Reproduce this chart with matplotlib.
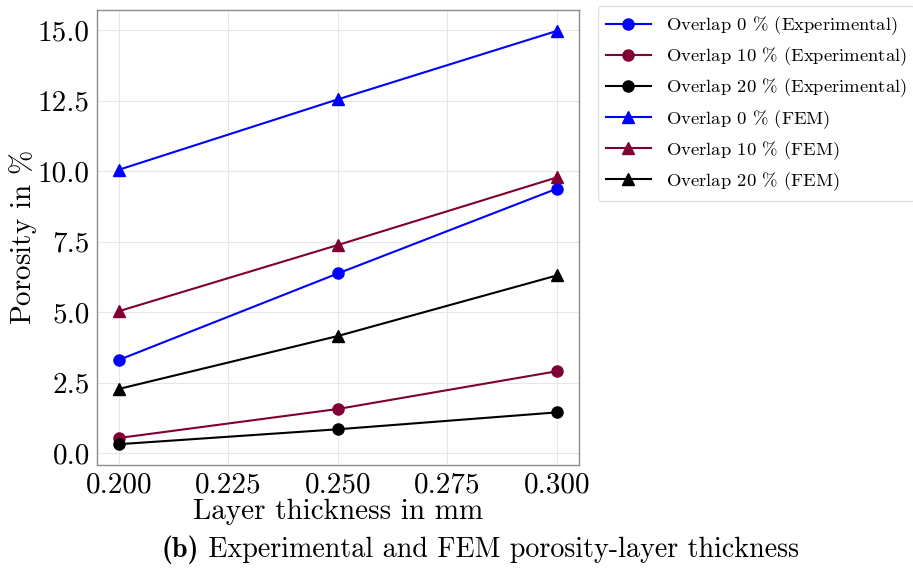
import matplotlib
matplotlib.use("Agg")
import matplotlib.pyplot as plt

plt.rcParams["font.family"] = "serif"
plt.rcParams["font.serif"] = ["cmr10", "DejaVu Serif"]
plt.rcParams["mathtext.fontset"] = "cm"
plt.rcParams["axes.formatter.use_mathtext"] = True

thickness = [0.200, 0.250, 0.300]

exp_0 = [3.30, 6.37, 9.38]
exp_10 = [0.53, 1.56, 2.90]
exp_20 = [0.31, 0.84, 1.44]
fem_0 = [10.05, 12.55, 14.98]
fem_10 = [5.03, 7.38, 9.78]
fem_20 = [2.27, 4.15, 6.30]

blue = "#0000ff"
maroon = "#800033"
black = "#000000"

fig = plt.figure(figsize=(9.13, 5.69), dpi=100)
ax = fig.add_axes([0.106, 0.183, 0.528, 0.799])

ax.plot(thickness, exp_0, color=blue, marker="o", ms=8, lw=1.5, label=r"Overlap 0 $\%$ (Experimental)")
ax.plot(thickness, exp_10, color=maroon, marker="o", ms=8, lw=1.5, label=r"Overlap 10 $\%$ (Experimental)")
ax.plot(thickness, exp_20, color=black, marker="o", ms=8, lw=1.5, label=r"Overlap 20 $\%$ (Experimental)")
ax.plot(thickness, fem_0, color=blue, marker="^", ms=8, lw=1.5, label=r"Overlap 0 $\%$ (FEM)")
ax.plot(thickness, fem_10, color=maroon, marker="^", ms=8, lw=1.5, label=r"Overlap 10 $\%$ (FEM)")
ax.plot(thickness, fem_20, color=black, marker="^", ms=8, lw=1.5, label=r"Overlap 20 $\%$ (FEM)")

ax.set_xticks([0.200, 0.225, 0.250, 0.275, 0.300])
ax.set_xticklabels(["0.200", "0.225", "0.250", "0.275", "0.300"])
ax.set_yticks([0.0, 2.5, 5.0, 7.5, 10.0, 12.5, 15.0])
ax.set_yticklabels(["0.0", "2.5", "5.0", "7.5", "10.0", "12.5", "15.0"])
ax.tick_params(labelsize=21, length=0, pad=5)
ax.grid(True, color="#e6e6e6", lw=0.8)
ax.set_axisbelow(True)
for s in ax.spines.values():
    s.set_color("#8c8c8c")
    s.set_linewidth(1.0)

ax.set_xlabel("Layer thickness in mm", fontsize=21, labelpad=0)
ax.set_ylabel(r"Porosity in $\%$", fontsize=21, labelpad=-1)

ax.legend(loc="upper left", bbox_to_anchor=(1.039, 1.009), borderaxespad=0,
          fontsize=13.4, frameon=True, edgecolor="#e0e0e0", framealpha=1.0,
          handlelength=2.4, handletextpad=0.8, labelspacing=0.45, borderpad=0.45)

# caption: bold "(b)" followed by regular text, centred as one line
cap_y = 0.034
cap_x = 0.526
t1 = fig.text(0, cap_y, "(b)", fontsize=20.2, family="cmb10", ha="left", va="center")
t2 = fig.text(0, cap_y, " Experimental and FEM porosity-layer thickness",
              fontsize=20.2, ha="left", va="center")
fig.canvas.draw()
r = fig.canvas.get_renderer()
w1 = t1.get_window_extent(r).width / fig.bbox.width
w2 = t2.get_window_extent(r).width / fig.bbox.width
x0 = cap_x - (w1 + w2) / 2
t1.set_x(x0)
t2.set_x(x0 + w1)

fig.savefig("out.png", dpi=100)
